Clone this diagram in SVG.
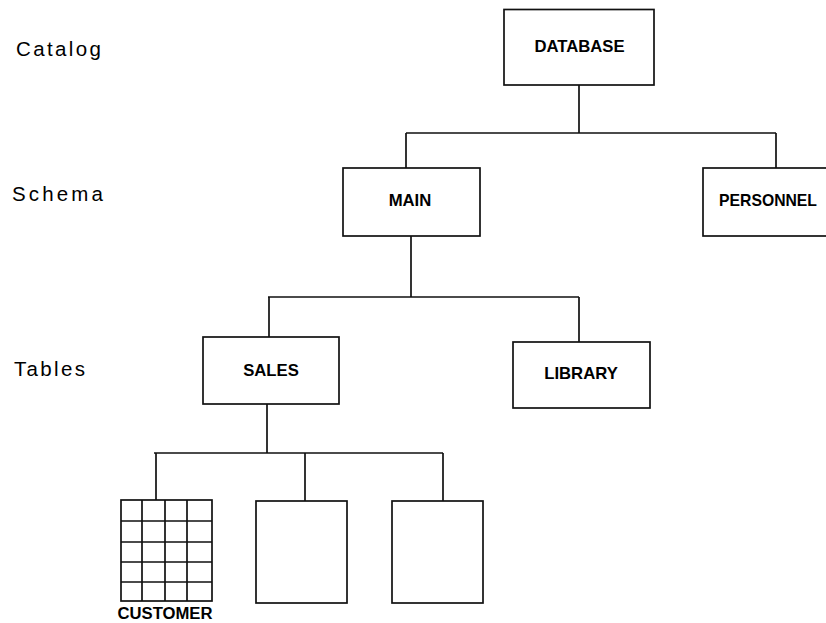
<svg xmlns="http://www.w3.org/2000/svg" width="826" height="623" viewBox="0 0 826 623">
<style>
.box{fill:#fff;stroke:#111;stroke-width:1.7}
.ln{fill:none;stroke:#111;stroke-width:1.7}
.bl{font-family:"Liberation Sans",Arial,sans-serif;font-weight:bold;font-size:16.7px;fill:#000;text-anchor:middle}
.lv{font-family:"Liberation Sans",Arial,sans-serif;font-size:20.5px;fill:#000}
</style>
<rect width="826" height="623" fill="#fff"/>
<g id="levels">
<text class="lv" x="16" y="56" textLength="85" lengthAdjust="spacing">Catalog</text>
<text class="lv" x="12" y="201" textLength="91" lengthAdjust="spacing">Schema</text>
<text class="lv" x="14" y="376" textLength="71" lengthAdjust="spacing">Tables</text>
</g>
<g id="connectors" class="ln">
<path d="M579 85V133M406 133H776M406 133V168M776 133V168"/>
<path d="M411 236V297M268 297H579M269 297V337M579 297V342"/>
<path d="M267 404V453M154 453H443M156 453V500M305 453V501M443 453V501"/>
</g>
<g id="database">
<rect class="box" x="504" y="9.5" width="150" height="75.5"/>
<text class="bl" x="579.5" y="52">DATABASE</text>
</g>
<g id="main">
<rect class="box" x="343" y="168" width="137" height="68"/>
<text class="bl" x="410" y="206">MAIN</text>
</g>
<g id="personnel">
<rect class="box" x="703" y="168" width="137" height="68"/>
<text class="bl" x="768" y="206" textLength="98" lengthAdjust="spacingAndGlyphs">PERSONNEL</text>
</g>
<g id="sales">
<rect class="box" x="203" y="337" width="136" height="67"/>
<text class="bl" x="271" y="376">SALES</text>
</g>
<g id="library">
<rect class="box" x="513" y="342" width="137" height="66"/>
<text class="bl" x="581" y="379">LIBRARY</text>
</g>
<g id="customer">
<rect class="box" x="121" y="500" width="91" height="101"/>
<path class="ln" d="M142 500V601M165 500V601M187 500V601M121 521H212M121 542H212M121 562H212M121 582H212"/>
<text class="bl" x="165" y="619" style="font-size:16px" textLength="95" lengthAdjust="spacingAndGlyphs">CUSTOMER</text>
</g>
<g id="table2">
<rect class="box" x="256" y="501" width="91" height="102"/>
</g>
<g id="table3">
<rect class="box" x="392" y="501" width="91" height="102"/>
</g>
</svg>
